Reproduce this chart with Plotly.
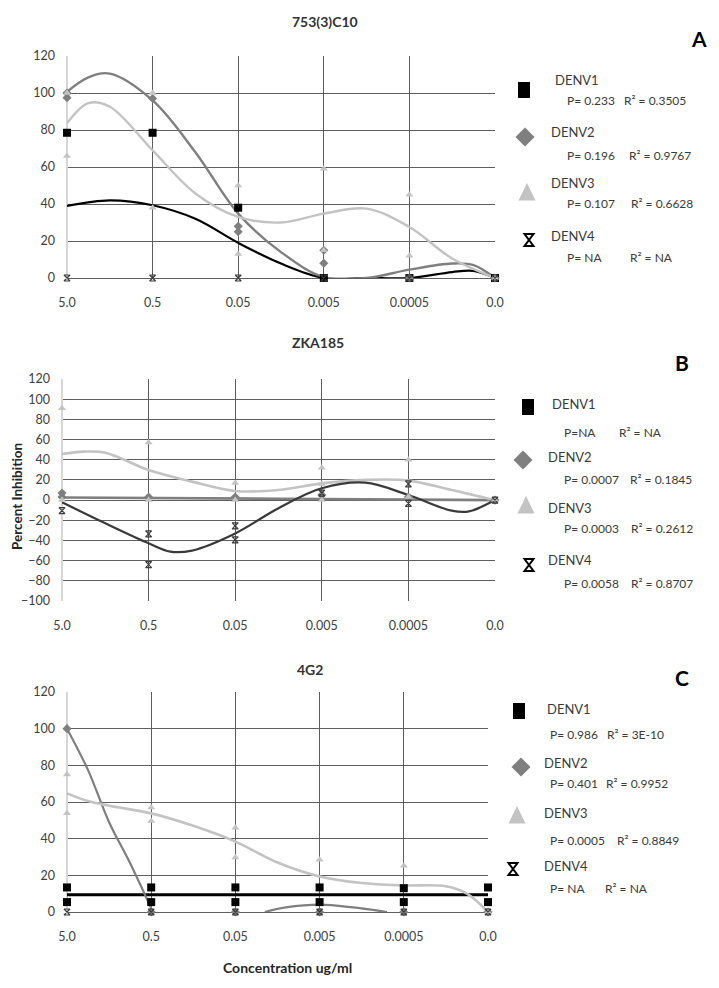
import plotly.graph_objects as go

# page shows the figure with an 8px body margin, so the figure is sized to fit the 719x988 window
OFF = 8
W, H = 719 - OFF, 988 - OFF

# ---------------- data ----------------
CONC_LABELS = ["5.0", "0.5", "0.05", "0.005", "0.0005", "0.0"]
SERIES = ["DENV1", "DENV2", "DENV3", "DENV4"]

# Panel A : 753(3)C10  (replicate values per concentration)
A_DENV1 = [[78.5], [78.5], [38], [0], [0], [0]]
A_DENV2 = [[100, 97.5], [97], [28, 25], [15, 8], [0], [0]]
A_DENV3 = [[100, 66], [100, 38], [50, 13], [59, 15], [45, 12], [0]]
A_DENV4 = [[0], [0], [0], [0], [0], [0]]
# trend curves (position on category axis, value)
A_T1_X = [0, 0.5, 1, 1.5, 2, 2.5, 3, 3.5, 4, 4.5, 4.75, 5]
A_T1_Y = [39, 42, 39.3, 32, 19, 7.8, 0, 0, 0, 3.2, 3.8, 0]
A_T2_X = [0, 0.25, 0.5, 1, 1.5, 2, 2.5, 3, 3.5, 4, 4.5, 4.75, 5]
A_T2_Y = [100.7, 108.5, 110.5, 96, 68, 34.8, 14, 0.5, 0, 4.5, 7.8, 7, 0]
A_T3_X = [0, 0.25, 0.5, 1, 1.5, 2, 2.5, 3, 3.5, 4, 4.5, 5]
A_T3_Y = [83.6, 94.5, 92.6, 69, 45.7, 33, 30, 34.8, 37.5, 27.6, 10.5, 0]
A_STATS = [("P= 0.233", "R² = 0.3505"), ("P= 0.196", "R² = 0.9767"),
           ("P= 0.107", "R² = 0.6628"), ("P= NA", "R² = NA")]

# Panel B : ZKA185
B_DENV1 = [[], [], [], [], [], []]
B_DENV2 = [[7, 3], [3], [3], [5], [3], [0]]
B_DENV3 = [[91, 0], [57, 0], [17, 0], [32, 16, 0], [40, 3], [0]]
B_DENV4 = [[-10.5], [-33.5, -64], [-25.6, -39.5], [7], [16, -3.2], [0]]
B_T2_X = [0, 2.5, 5]
B_T2_Y = [2.5, 1.3, 0]
B_T3_X = [0, 0.25, 0.5, 1, 1.5, 2, 2.5, 3, 3.5, 4, 4.5, 5]
B_T3_Y = [45.7, 48, 47, 29.8, 18.3, 9, 10, 16.6, 20, 19.3, 10, 0]
B_T4_X = [0, 0.5, 1, 1.25, 1.5, 2, 2.5, 3, 3.5, 4, 4.5, 4.7, 5]
B_T4_Y = [-2.2, -23, -42.8, -51, -50, -33, -8, 11.7, 17.3, 5, -10.5, -11.2, 0]
B_STATS = [("P=NA", "R² = NA"), ("P= 0.0007", "R² = 0.1845"),
           ("P= 0.0003", "R² = 0.2612"), ("P= 0.0058", "R² = 0.8707")]

# Panel C : 4G2
C_DENV1 = [[13.4, 5.4], [13.4, 5.4], [13.4, 5.4], [13.4, 5.4], [13, 5.4], [13.4, 5.4]]
C_DENV2 = [[100], [0], [0], [0], [0], [0]]
C_DENV3 = [[75, 53.8], [57, 49.7], [46, 29.7], [28.5], [25.2], [0]]
C_DENV4 = [[0], [0], [0], [0], [0], [0]]
C_T1_X = [0, 5]
C_T1_Y = [9.4, 9.4]
C_T2_X = [0, 0.25, 0.5, 0.75, 1, None, 2.35, 2.6, 3, 3.4, 3.8]
C_T2_Y = [100, 77.4, 49, 26.6, 2, None, 0, 2.5, 4, 2.5, 0]
C_T3_X = [0, 0.25, 0.5, 1, 1.5, 2, 2.5, 3, 3.5, 4, 4.5, 4.75, 5]
C_T3_Y = [64.7, 60.5, 58, 53.8, 47, 38.4, 27, 19.4, 15.8, 14.5, 14, 10, 0]
C_STATS = [("P= 0.986", "R² = 3E-10"), ("P= 0.401", "R² = 0.9952"),
           ("P= 0.0005", "R² = 0.8849"), ("P= NA", "R² = NA")]

# ---------------- styling ----------------
FONT = "Lato"
GRID = "#5e5e5e"
EDGE = "#d6d6d6"
TICKC = "#404040"
TXT = "#3a3a3a"
COL = {"DENV1": "#000000", "DENV2": "#7f7f7f", "DENV3": "#c3c3c3", "DENV4": "#3a3a3a"}


def fx(px):
    return (px - OFF) / W


def fy(py):
    return 1 - (py - OFF) / H


def flatten(reps):
    xs, ys = [], []
    for i, vals in enumerate(reps):
        for v in vals:
            xs.append(i)
            ys.append(v)
    return xs, ys


fig = go.Figure()

panels = [
    dict(ax="", pts=[A_DENV1, A_DENV2, A_DENV3, A_DENV4],
         trends=[(A_T1_X, A_T1_Y, "DENV1", 2.2), (A_T2_X, A_T2_Y, "DENV2", 2.4), (A_T3_X, A_T3_Y, "DENV3", 2.4)],
         xdom=[67, 495], ydom=[56, 278], yr=[0, 120]),
    dict(ax="2", pts=[B_DENV1, B_DENV2, B_DENV3, B_DENV4],
         trends=[(B_T2_X, B_T2_Y, "DENV2", 2.6), (B_T3_X, B_T3_Y, "DENV3", 2.6), (B_T4_X, B_T4_Y, "DENV4", 2.2)],
         xdom=[62, 495], ydom=[379, 601], yr=[-100, 120]),
    dict(ax="3", pts=[C_DENV1, C_DENV2, C_DENV3, C_DENV4],
         trends=[(C_T1_X, C_T1_Y, "DENV1", 3), (C_T2_X, C_T2_Y, "DENV2", 2.2), (C_T3_X, C_T3_Y, "DENV3", 2.6)],
         xdom=[67, 488], ydom=[692, 912], yr=[0, 120]),
]

MARK = {
    "DENV1": dict(symbol="square", size=8, color=COL["DENV1"]),
    "DENV2": dict(symbol="diamond", size=7, color=COL["DENV2"]),
    "DENV3": dict(symbol="triangle-up", size=7, color=COL["DENV3"]),
    "DENV4": dict(symbol="hourglass-open", size=6, color=COL["DENV4"], line=dict(width=1.2, color=COL["DENV4"])),
}

for p in panels:
    xa, ya = "x" + p["ax"], "y" + p["ax"]
    for tx, ty, s, w in p["trends"]:
        fig.add_trace(go.Scatter(x=tx, y=ty, mode="lines", xaxis=xa, yaxis=ya,
                                 line=dict(color=COL[s], width=w, shape="spline", smoothing=1.0),
                                 connectgaps=False, showlegend=False, hoverinfo="skip"))
    for s, reps in zip(SERIES, p["pts"]):
        xs, ys = flatten(reps)
        if not xs:
            continue
        fig.add_trace(go.Scatter(x=xs, y=ys, mode="markers", xaxis=xa, yaxis=ya,
                                 marker=MARK[s], cliponaxis=False, showlegend=False, name=s))
    xkey = "xaxis" + p["ax"]
    ykey = "yaxis" + p["ax"]
    fig.update_layout(**{
        xkey: dict(domain=[fx(p["xdom"][0]), fx(p["xdom"][1])], anchor=ya, range=[0, 5],
                   tickvals=list(range(6)), ticktext=CONC_LABELS, showgrid=True, gridcolor=GRID,
                   gridwidth=1, zeroline=True, zerolinecolor=EDGE, zerolinewidth=1.5, showline=False,
                   automargin=False,
                   ticks="", ticklabelstandoff=15, tickfont=dict(family=FONT, size=12.5, color=TICKC)),
        ykey: dict(domain=[fy(p["ydom"][1]), fy(p["ydom"][0])], anchor=xa, range=p["yr"], dtick=20,
                   tick0=0, showgrid=True, gridcolor=GRID, gridwidth=1, zeroline=True, zerolinecolor=GRID,
                   zerolinewidth=1, showline=False, ticks="", ticklabelstandoff=11, automargin=False,
                   tickfont=dict(family=FONT, size=12.5, color=TICKC)),
    })

annotations = []
shapes = []


def ann(text, px, py, size=12, bold=False, color=TXT, xanchor="left", angle=0):
    annotations.append(dict(text=("<b>%s</b>" % text) if bold else text, x=fx(px), y=fy(py),
                            xref="paper", yref="paper", xanchor=xanchor, yanchor="middle",
                            showarrow=False, textangle=angle,
                            font=dict(family=FONT, size=size, color=color)))


# titles and axis titles
ann("753(3)C10", 325, 21, 14, True, "#333333", "center")
ann("ZKA185", 318, 342, 14, True, "#333333", "center")
ann("4G2", 310, 669, 14, True, "#333333", "center")
ann("Percent Inhibition", 17, 497, 13.5, True, "#262626", "center", -90)
ann("Concentration ug/ml", 287, 967, 14, True, "#262626", "center")
ann("A", 699, 38, 21, True, "#000000", "center")
ann("B", 682, 362, 21, True, "#000000", "center")
ann("C", 682, 677, 21, True, "#000000", "center")

# legend layouts (pixel positions): key(x,y), name(x,y), P(x,y), R(x)
LEG = [
    (A_STATS, [((524, 90), (553, 80), (565, 100), 622),
               ((525, 137), (549, 132), (565, 155), 627),
               ((527, 192), (549, 183), (565, 203), 629),
               ((529, 240), (549, 236), (565, 257), 628)]),
    (B_STATS, [((528, 407), (550, 404), (562, 432), 617),
               ((523, 460), (546, 457), (562, 479), 628),
               ((526, 505), (546, 508), (562, 528), 629),
               ((529, 565), (546, 560), (562, 583), 629)]),
    (C_STATS, [((519, 711), (545, 709), (548, 734), 605),
               ((521, 767), (542, 763), (548, 783), 604),
               ((517, 815), (542, 813), (548, 840), 615),
               ((513, 869), (542, 866), (548, 888), 603)]),
]

KEY_PATH = {
    "DENV1": ("M -6 -8 L 6 -8 L 6 8 L -6 8 Z", COL["DENV1"], None),
    "DENV2": ("M -9.5 0 L 0 9.5 L 9.5 0 L 0 -9.5 Z", COL["DENV2"], None),
    "DENV3": ("M -8.5 -8.5 L 8.5 -8.5 L 0 9 Z", COL["DENV3"], None),
    "DENV4": ("M -4.5 6 L 4.5 6 L -4.5 -6 L 4.5 -6 Z", "rgba(0,0,0,0)", "#000000"),
}

for stats, rows in LEG:
    for s, (pst, row) in zip(SERIES, zip(stats, rows)):
        (kx, ky), (nx, ny), (ppx, ppy), rx = row
        path, fill, lc = KEY_PATH[s]
        shapes.append(dict(type="path", xref="paper", yref="paper", xsizemode="pixel", ysizemode="pixel",
                           xanchor=fx(kx), yanchor=fy(ky), path=path, fillcolor=fill,
                           line=dict(color=lc if lc else fill, width=2 if lc else 0)))
        ann(s, nx, ny, 13, False, TXT)
        ann(pst[0], ppx, ppy, 12, False, TXT)
        ann(pst[1], rx, ppy, 12, False, TXT)

fig.update_layout(width=W, height=H, margin=dict(l=0, r=0, t=0, b=0, autoexpand=False),
                  paper_bgcolor="white", plot_bgcolor="white", showlegend=False,
                  annotations=annotations, shapes=shapes)

fig.write_html("out.html")
